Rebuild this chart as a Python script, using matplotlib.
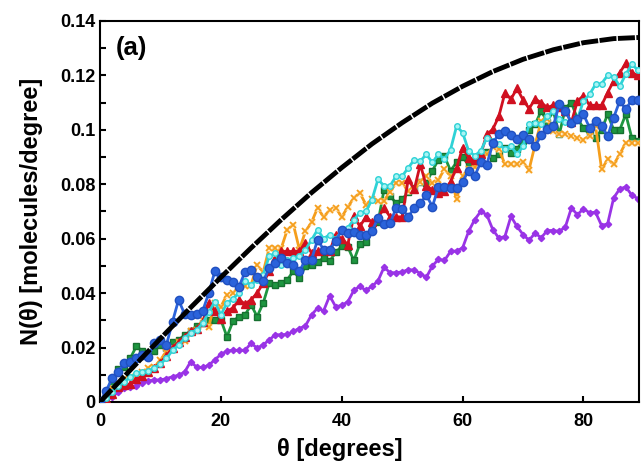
import numpy as np
import matplotlib.pyplot as plt

# angles (degrees), one point per degree
theta = np.arange(0, 90)

# theoretical curve, read every 5 degrees
theta_ref = np.arange(0, 95, 5)
n_ref = [0, 0.0117, 0.0233, 0.0347, 0.0458, 0.0566, 0.067, 0.0769, 0.0861, 0.0948,
         0.1026, 0.1098, 0.116, 0.1214, 0.1259, 0.1294, 0.132, 0.1335, 0.134]

n_blue = [0, 0.004, 0.0087, 0.011, 0.0142, 0.0148, 0.016, 0.0173, 0.0167, 0.0216,
          0.0228, 0.021, 0.0295, 0.0375, 0.0323, 0.032, 0.0325, 0.0335, 0.04, 0.048,
          0.046, 0.045, 0.044, 0.0424, 0.0478, 0.0486, 0.046, 0.0443, 0.0492, 0.051,
          0.0529, 0.051, 0.0504, 0.048, 0.0523, 0.0523, 0.0596, 0.056, 0.056, 0.059,
          0.0633, 0.062, 0.0625, 0.0615, 0.0615, 0.0627, 0.0676, 0.0655, 0.0657, 0.0713,
          0.071, 0.068, 0.0713, 0.073, 0.076, 0.0718, 0.079, 0.079, 0.0787, 0.0787,
          0.081, 0.085, 0.083, 0.088, 0.0872, 0.095, 0.0986, 0.0995, 0.098, 0.0965,
          0.098, 0.0965, 0.094, 0.098, 0.1002, 0.1014, 0.1093, 0.107, 0.1026, 0.104,
          0.1057, 0.1008, 0.1032, 0.1014, 0.0976, 0.1045, 0.1106, 0.1075, 0.111, 0.111]

n_red = [0, 0.001, 0.003, 0.0056, 0.0063, 0.0065, 0.0085, 0.0095, 0.011, 0.0125,
         0.0145, 0.017, 0.02, 0.022, 0.024, 0.026, 0.027, 0.0295, 0.0365, 0.0335,
         0.0305, 0.0335, 0.0345, 0.0376, 0.036, 0.0376, 0.04, 0.0437, 0.048, 0.0529,
         0.0553, 0.0553, 0.0553, 0.0555, 0.0584, 0.0548, 0.0555, 0.056, 0.0553, 0.0615,
         0.06, 0.0578, 0.0683, 0.0645, 0.068, 0.066, 0.0676, 0.0713, 0.068, 0.068,
         0.068, 0.0818, 0.0781, 0.0873, 0.0793, 0.078, 0.0768, 0.0774, 0.081, 0.086,
         0.0934, 0.0898, 0.089, 0.091, 0.0983, 0.1002, 0.105, 0.1135, 0.1113, 0.1152,
         0.111, 0.1078, 0.1113, 0.11, 0.1082, 0.109, 0.1082, 0.107, 0.1027, 0.1106,
         0.1125, 0.109, 0.109, 0.109, 0.1137, 0.118, 0.121, 0.1244, 0.121, 0.12]

n_cyan = [0, 0.0015, 0.0035, 0.006, 0.0075, 0.009, 0.0105, 0.011, 0.0115, 0.0125,
          0.014, 0.016, 0.019, 0.021, 0.0235, 0.0255, 0.0265, 0.029, 0.033, 0.0369,
          0.032, 0.0363, 0.038, 0.04, 0.0443, 0.043, 0.045, 0.0468, 0.0535, 0.0547,
          0.0504, 0.052, 0.053, 0.0535, 0.056, 0.0595, 0.0633, 0.06, 0.0615, 0.06,
          0.0627, 0.064, 0.067, 0.0695, 0.07, 0.0743, 0.0818, 0.0794, 0.0794, 0.083,
          0.083, 0.086, 0.089, 0.0885, 0.091, 0.088, 0.091, 0.0893, 0.0927, 0.1013,
          0.099, 0.0922, 0.0905, 0.0922, 0.097, 0.096, 0.0946, 0.093, 0.094, 0.091,
          0.094, 0.102, 0.1026, 0.102, 0.105, 0.1068, 0.104, 0.103, 0.102, 0.104,
          0.1106, 0.113, 0.1167, 0.117, 0.12, 0.1195, 0.116, 0.1204, 0.124, 0.122]

n_green = [0, 0.003, 0.007, 0.012, 0.013, 0.016, 0.0204, 0.0188, 0.017, 0.0188,
           0.021, 0.02, 0.022, 0.0228, 0.0246, 0.026, 0.028, 0.029, 0.0302, 0.0302,
           0.0302, 0.024, 0.0296, 0.0314, 0.032, 0.0357, 0.0314, 0.0363, 0.0437, 0.043,
           0.0437, 0.045, 0.048, 0.0455, 0.05, 0.0505, 0.0515, 0.0529, 0.0517, 0.055,
           0.0572, 0.057, 0.052, 0.058, 0.0586, 0.0633, 0.066, 0.078, 0.0757, 0.073,
           0.0745, 0.077, 0.0785, 0.081, 0.0805, 0.085, 0.089, 0.0903, 0.085, 0.088,
           0.09, 0.087, 0.088, 0.091, 0.092, 0.0895, 0.091, 0.0934, 0.0915, 0.093,
           0.096, 0.1, 0.102, 0.1069, 0.103, 0.1069, 0.0983, 0.108, 0.11, 0.104,
           0.1007, 0.0983, 0.097, 0.1, 0.1057, 0.1, 0.1, 0.1057, 0.097, 0.096]

n_orange = [0, 0.0026, 0.005, 0.0065, 0.0085, 0.0093, 0.0091, 0.011, 0.0124, 0.0128,
            0.0155, 0.0185, 0.02, 0.0222, 0.0225, 0.0259, 0.0265, 0.0302, 0.0277, 0.0363,
            0.035, 0.0394, 0.04, 0.0425, 0.0425, 0.043, 0.0504, 0.0477, 0.0566, 0.0566,
            0.0566, 0.0633, 0.0652, 0.056, 0.0627, 0.066, 0.0713, 0.068, 0.0705, 0.0713,
            0.068, 0.0716, 0.075, 0.0768, 0.0725, 0.0745, 0.074, 0.074, 0.0772, 0.0805,
            0.0805, 0.0775, 0.078, 0.081, 0.083, 0.0805, 0.0817, 0.0855, 0.083, 0.0744,
            0.0832, 0.0855, 0.0865, 0.0885, 0.091, 0.0935, 0.093, 0.0873, 0.0875, 0.0873,
            0.088, 0.0854, 0.0946, 0.1032, 0.1038, 0.0995, 0.0983, 0.0983, 0.0977, 0.097,
            0.0964, 0.0977, 0.1014, 0.0855, 0.0891, 0.0873, 0.091, 0.0953, 0.0953, 0.0953]

n_purple = [0, 0.001, 0.002, 0.0035, 0.005, 0.0054, 0.006, 0.0069, 0.0078, 0.0081,
            0.0081, 0.0086, 0.0093, 0.0098, 0.011, 0.0148, 0.0128, 0.0127, 0.0135, 0.0155,
            0.0175, 0.0187, 0.019, 0.019, 0.019, 0.0216, 0.0198, 0.021, 0.0228, 0.0247,
            0.0247, 0.0248, 0.026, 0.027, 0.028, 0.032, 0.0345, 0.0335, 0.039, 0.035,
            0.0355, 0.0368, 0.041, 0.0425, 0.041, 0.0425, 0.0445, 0.0495, 0.0475, 0.0475,
            0.0478, 0.0486, 0.0485, 0.0472, 0.0458, 0.05, 0.0524, 0.052, 0.0553, 0.0555,
            0.0566, 0.0627, 0.067, 0.07, 0.0688, 0.0633, 0.0602, 0.0608, 0.0682, 0.0645,
            0.0615, 0.0594, 0.0621, 0.0603, 0.063, 0.063, 0.0627, 0.0643, 0.0713, 0.0688,
            0.071, 0.0695, 0.0697, 0.0648, 0.0655, 0.075, 0.0783, 0.079, 0.076, 0.0747]

plt.rcParams['font.family'] = ['Liberation Sans', 'DejaVu Sans']
plt.rcParams['font.weight'] = 'bold'

fig = plt.figure(figsize=(6.41, 4.65), dpi=100)
ax = fig.add_axes([0.156, 0.1355, 0.841, 0.8195])

lw = 2.0
ax.plot(theta, n_purple, color="#9933E6", lw=lw, marker="D", ms=3.2, zorder=2)
ax.plot(theta, n_green, color="#1E9640", lw=lw, marker="s", ms=4.5, mec="#167030", zorder=3)
# orange: x on a pale background
ax.plot(theta, n_orange, color="#F59E1C", lw=lw, zorder=4)
ax.plot(theta, n_orange, ls="none", marker="s", ms=5, mfc="#FFF1D2", mec="none", zorder=4)
ax.plot(theta, n_orange, ls="none", marker="x", ms=4.5, mew=1.3, color="#F59E1C", zorder=4)
ax.plot(theta, n_red, color="#D01020", lw=lw, marker="^", ms=5.5, zorder=5)
ax.plot(theta, n_cyan, color="#2ED2D6", lw=lw, marker="o", ms=4,
        mfc="#A8F4F4", mec="#2ED2D6", zorder=5)
ax.plot(theta, n_blue, color="#2B63DB", lw=lw, marker="o", ms=6, mec="#2050C0", zorder=6)
ax.plot(theta_ref, n_ref, color="black", lw=3.5, linestyle=(0, (3.5, 0.3)),
        dash_capstyle="butt", zorder=7)

ax.set_xlim(0, 89.2)
ax.set_ylim(0, 0.14)
ax.set_xticks([0, 20, 40, 60, 80])
ax.set_yticks([0, 0.02, 0.04, 0.06, 0.08, 0.1, 0.12, 0.14])
ax.set_yticklabels(["0", "0.02", "0.04", "0.06", "0.08", "0.1", "0.12", "0.14"])
ax.set_yticks(np.arange(0.01, 0.14, 0.02), minor=True)
ax.tick_params(which="both", direction="in", length=4, width=1.5, labelsize=13)
ax.tick_params(axis="x", pad=8)
for s in ax.spines.values():
    s.set_linewidth(1.5)

ax.set_xlabel("θ [degrees]", fontsize=17, fontweight="bold")
ax.xaxis.set_label_coords(0.445, -0.095)
ax.set_ylabel("N(θ) [molecules/degree]", fontsize=17, fontweight="bold", labelpad=12)
ax.text(0.03, 0.93, "(a)", transform=ax.transAxes, fontsize=18.5, fontweight="bold",
        va="center", ha="left")

fig.savefig("out.png", dpi=100)
